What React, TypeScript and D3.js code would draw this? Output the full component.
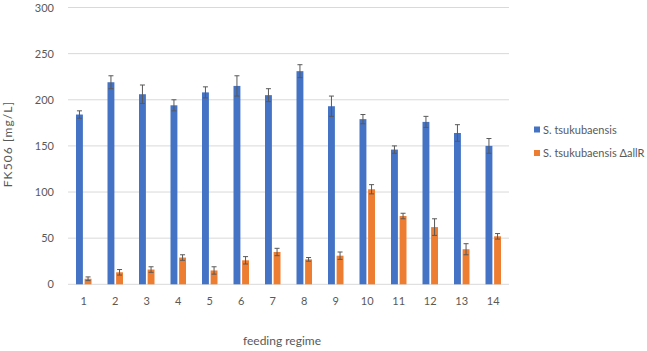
import React from "react";
import * as d3 from "d3";

// feeding regimes on the x axis
const regimes = ["1", "2", "3", "4", "5", "6", "7", "8", "9", "10", "11", "12", "13", "14"];

// FK506 titres (mg/L) with standard deviations
const wildType = [184, 219, 206, 194, 208, 215, 205, 231, 193, 179, 146, 176, 164, 150];
const wildTypeErr = [4, 7, 10, 6, 6, 11, 7, 7, 11, 5, 4, 6, 9, 8];
const mutant = [6, 13, 16, 29, 15, 26, 35, 27, 31, 103, 74, 62, 38, 52];
const mutantErr = [2, 3, 3, 3, 4, 4, 4, 2, 4, 5, 3, 9, 6, 3];

const yTicks = [0, 50, 100, 150, 200, 250, 300];
const seriesNames = ["S. tsukubaensis", "S. tsukubaensis ΔallR"];
const seriesColors = ["#4472C4", "#ED7D31"];

const W = 647;
const H = 351;
const FONT = "Lato, 'Open Sans', sans-serif";
const TEXT = "#595959";

export default function App() {
  const x = d3.scaleBand<string>().domain(regimes).range([68, 509]);
  const y = d3.scaleLinear().domain([0, 300]).range([284.3, 7.5]);
  const inner = d3
    .scaleBand<number>()
    .domain([0, 1])
    .range([-7.75, 7.75])
    .paddingInner(0.2);

  const series = [
    { values: wildType, errs: wildTypeErr },
    { values: mutant, errs: mutantErr },
  ];

  return (
    <svg
      width={W}
      height={H}
      style={{ position: "absolute", left: 0, top: 0, background: "#fff" }}
      fontFamily={FONT}
    >
      {/* gridlines and y tick labels */}
      {yTicks.map((t) => (
        <g key={t}>
          <line x1={68} x2={509} y1={y(t)} y2={y(t)} stroke="#D9D9D9" strokeWidth={1} />
          <text x={54} y={y(t) + 4} textAnchor="end" fontSize={11} fill={TEXT}>
            {t}
          </text>
        </g>
      ))}

      {/* bars with error bars */}
      {series.map((s, si) =>
        regimes.map((r, i) => {
          const cx = (x(r) as number) + x.bandwidth() / 2;
          const bx = cx + (inner(si) as number);
          const bw = inner.bandwidth();
          const mid = bx + bw / 2;
          const v = s.values[i];
          const e = s.errs[i];
          return (
            <g key={`${si}-${r}`}>
              <rect x={bx} y={y(v)} width={bw} height={y(0) - y(v)} fill={seriesColors[si]} />
              <line x1={mid} x2={mid} y1={y(v + e)} y2={y(v - e)} stroke="#595959" strokeWidth={1} />
              <line x1={mid - 2.5} x2={mid + 2.5} y1={y(v + e)} y2={y(v + e)} stroke="#595959" strokeWidth={1} />
              <line x1={mid - 2.5} x2={mid + 2.5} y1={y(v - e)} y2={y(v - e)} stroke="#595959" strokeWidth={1} />
            </g>
          );
        })
      )}

      {/* x tick labels */}
      {regimes.map((r) => (
        <text
          key={r}
          x={(x(r) as number) + x.bandwidth() / 2}
          y={305}
          textAnchor="middle"
          fontSize={11}
          fill={TEXT}
        >
          {r}
        </text>
      ))}

      {/* axis titles */}
      <text x={282} y={345} textAnchor="middle" fontSize={12} fill={TEXT}>
        feeding regime
      </text>
      <text
        transform={`translate(12, 144) rotate(-90)`}
        textAnchor="middle"
        fontSize={12}
        letterSpacing={1.1}
        fill={TEXT}
      >
        FK506 [mg/L]
      </text>

      {/* legend */}
      {seriesNames.map((name, i) => (
        <g key={name} transform={`translate(534, ${129.5 + i * 23.5})`}>
          <rect x={0} y={-3} width={6} height={6} fill={seriesColors[i]} />
          <text x={9} y={4} fontSize={11} fill={TEXT}>
            {name}
          </text>
        </g>
      ))}
    </svg>
  );
}
